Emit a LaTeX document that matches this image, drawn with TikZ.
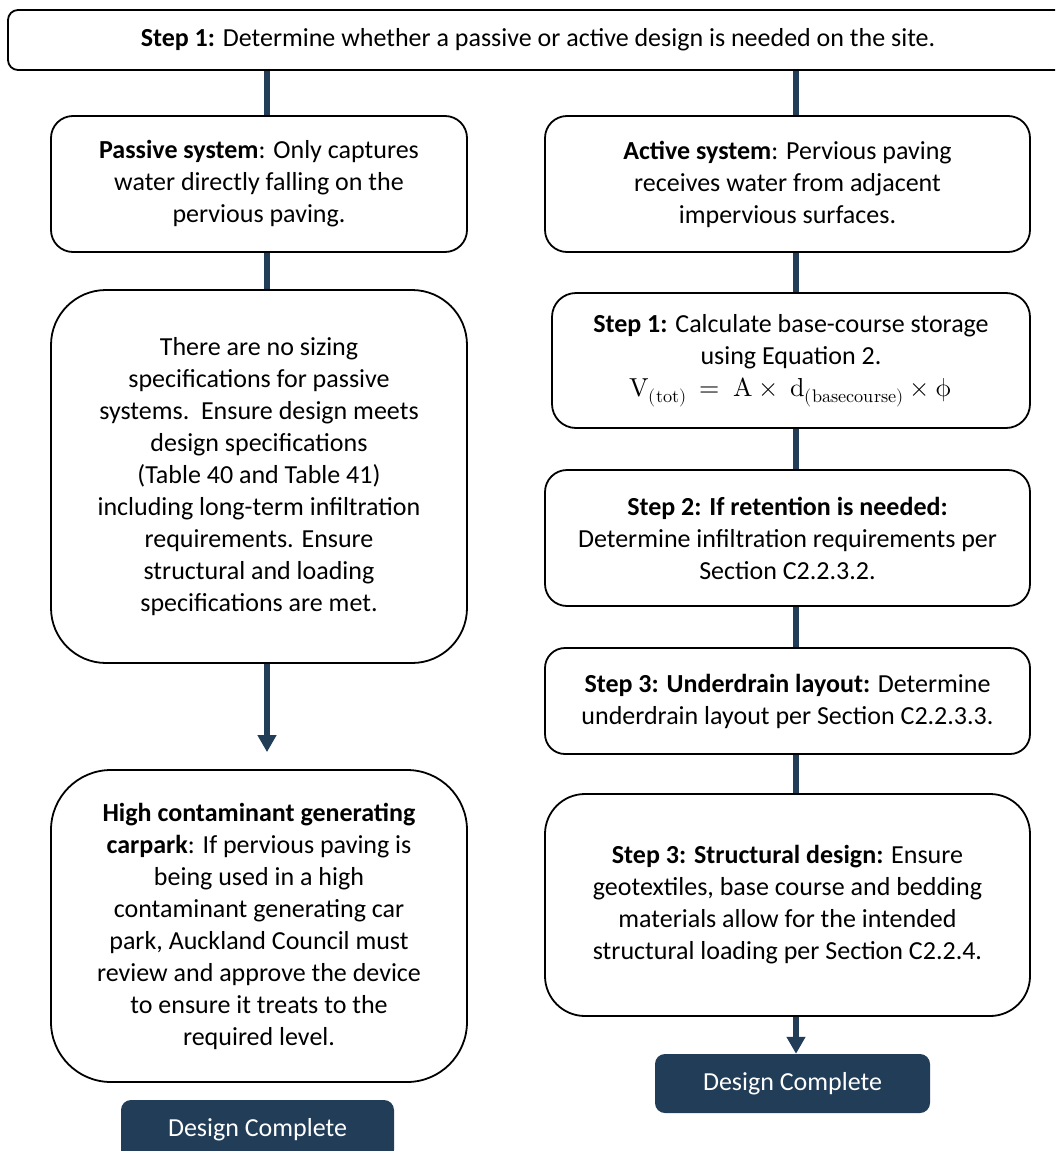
\documentclass[tikz,border=0pt]{standalone}
\usepackage{fontspec}
\usepackage{unicode-math}
\setmainfont{Carlito}
\setmathfont{Latin Modern Math}
\usetikzlibrary{arrows.meta}
\definecolor{navy}{RGB}{33,61,88}
\tikzset{
  box/.style={draw=black, line width=1.8pt, fill=white, align=center, inner sep=0pt,
    font=\fontsize{26}{32}\selectfont, text=black},
  donebox/.style={fill=navy, rounded corners=10pt, inner sep=0pt, align=center,
    font=\fontsize{26}{32}\selectfont, text=white},
  stem/.style={draw=navy, line width=6pt},
  arrowstem/.style={draw=navy, line width=6pt, -{Triangle[width=18pt,length=17pt]}},
}
\begin{document}
\begin{tikzpicture}[x=1pt,y=-1pt]
\useasboundingbox (0,0) rectangle (1055,1151);
\fill[white] (0,0) rectangle (1055,1151);
\begin{scope}
\clip (0,0) rectangle (1055,1151);
% top box
\node[box, rounded corners=10pt, minimum width=1060pt, minimum height=60pt] (top) at (538,40)
  {\raisebox{-7pt}{\textbf{Step 1:} Determine whether a passive or active design is needed on the site.}};
% left column
\node[box, rounded corners=22pt, minimum width=416pt, minimum height=136pt] (passive) at (259,184)
  {\textbf{Passive system}: Only captures\\water directly falling on the\\pervious paving.};
\node[box, rounded corners=55pt, minimum width=416pt, minimum height=373pt] (pbig) at (259,476.5)
  {There are no sizing\\specifications for passive\\systems.\ \ Ensure design meets\\design specifications\\(Table 40 and Table 41)\\including long-term infiltration\\requirements. Ensure\\structural and loading\\specifications are met.};
\node[box, rounded corners=60pt, minimum width=416pt, minimum height=312pt] (high) at (259,926)
  {\textbf{High contaminant generating}\\\textbf{carpark}: If pervious paving is\\being used in a high\\contaminant generating car\\park, Auckland Council must\\review and approve the device\\to ensure it treats to the\\required level.};
\node[donebox, minimum width=273pt, minimum height=60pt] (doneL) at (257.5,1130) {\raisebox{-2pt}{Design Complete}};
% right column
\node[box, rounded corners=22pt, minimum width=485pt, minimum height=136pt] (active) at (787.5,184)
  {\textbf{Active system}: Pervious paving\\receives water from adjacent\\impervious surfaces.};
\node[box, rounded corners=24pt, minimum width=478pt, minimum height=135pt] (s1) at (791,360.5)
  {\textbf{Step 1:} Calculate base-course storage\\using Equation 2.\\$\symup{V}_{(\symup{tot})}\ =\ \symup{A}\times\ \symup{d}_{(\symup{basecourse})}\times\upphi$};
\node[box, rounded corners=22pt, minimum width=485pt, minimum height=136pt] (s2) at (787.5,538)
  {\textbf{Step 2: If retention is needed:}\\Determine infiltration requirements per\\Section C2.2.3.2.};
\node[box, rounded corners=20pt, minimum width=485pt, minimum height=106pt] (s3u) at (787.5,701)
  {\textbf{Step 3: Underdrain layout:} Determine\\underdrain layout per Section C2.2.3.3.};
\node[box, rounded corners=40pt, minimum width=485pt, minimum height=222pt] (s3s) at (787.5,905)
  {\textbf{Step 3: Structural design:} Ensure\\geotextiles, base course and bedding\\materials allow for the intended\\structural loading per Section C2.2.4.};
\node[donebox, minimum width=275pt, minimum height=59pt] (doneR) at (792.5,1083.5) {Design Complete};
% stem x positions
\coordinate (xL) at (267,0);
\coordinate (xR) at (796,0);
% connectors left
\draw[stem] (top.south -| xL) -- (passive.north -| xL);
\draw[stem] (passive.south -| xL) -- (pbig.north -| xL);
\draw[arrowstem, shorten >=17pt] (pbig.south -| xL) -- (high.north -| xL);
% connectors right
\draw[stem] (top.south -| xR) -- (active.north -| xR);
\draw[stem] (active.south -| xR) -- (s1.north -| xR);
\draw[stem] (s1.south -| xR) -- (s2.north -| xR);
\draw[stem] (s2.south -| xR) -- (s3u.north -| xR);
\draw[stem] (s3u.south -| xR) -- (s3s.north -| xR);
\draw[arrowstem] (s3s.south -| xR) -- (doneR.north -| xR);
\end{scope}
\end{tikzpicture}
\end{document}
